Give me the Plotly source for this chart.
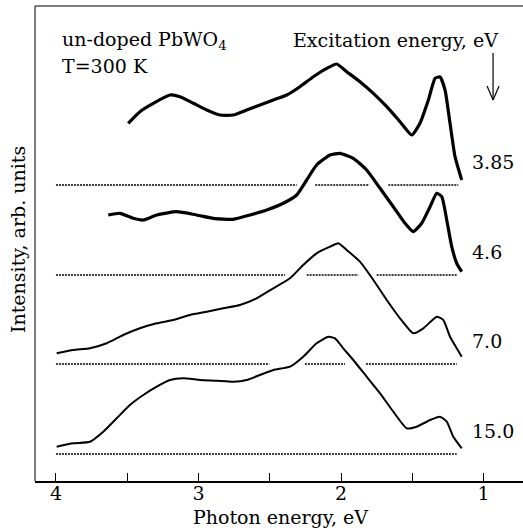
import plotly.graph_objects as go

# Photoluminescence spectra of un-doped PbWO4 at T = 300 K for several
# excitation energies; each spectrum is shifted up by its own offset.
excitation = ["3.85", "4.6", "7.0", "15.0"]
offsets = [269, 179, 90, 0]

e_385 = [3.493, 3.411, 3.317, 3.200, 3.130, 3.036, 2.942, 2.849, 2.756, 2.662,
         2.568, 2.475, 2.381, 2.288, 2.194, 2.100, 2.030, 1.960, 1.867, 1.773,
         1.679, 1.586, 1.504, 1.446, 1.387, 1.340, 1.305, 1.270, 1.235, 1.200,
         1.153]
i_385 = [61.7, 73.3, 81.7, 90.0, 88.3, 81.7, 75.0, 70.0, 70.0, 75.0,
         80.0, 85.0, 90.0, 98.3, 108.3, 116.7, 121.0, 113.3, 103.3, 91.7,
         78.3, 63.3, 50.0, 61.7, 85.0, 106.7, 108.0, 95.0, 61.7, 28.3,
         5.0]

e_46 = [3.633, 3.551, 3.458, 3.387, 3.293, 3.153, 3.013, 2.896, 2.756, 2.639,
        2.521, 2.405, 2.311, 2.241, 2.171, 2.077, 2.007, 1.914, 1.820, 1.726,
        1.633, 1.551, 1.493, 1.434, 1.375, 1.328, 1.293, 1.258, 1.223, 1.188,
        1.153]
i_46 = [60.0, 61.7, 56.7, 55.0, 60.0, 63.3, 60.0, 56.7, 55.7, 60.0,
        65.0, 71.7, 80.0, 95.0, 110.0, 120.0, 121.7, 116.7, 105.0, 86.7,
        68.3, 51.7, 43.3, 51.7, 68.3, 81.7, 78.3, 55.0, 28.3, 11.7,
        3.3]

e_70 = [3.995, 3.879, 3.761, 3.644, 3.528, 3.411, 3.293, 3.177, 3.060, 2.942,
        2.826, 2.709, 2.592, 2.475, 2.358, 2.265, 2.171, 2.077, 2.019, 1.960,
        1.867, 1.773, 1.679, 1.586, 1.493, 1.422, 1.328, 1.282, 1.235, 1.188,
        1.153]
i_70 = [10.7, 14.0, 15.7, 20.7, 29.0, 35.7, 40.7, 44.0, 49.0, 52.3,
        55.7, 59.0, 65.7, 75.7, 85.7, 99.0, 110.7, 117.3, 120.7, 114.0,
        102.3, 84.0, 64.0, 45.7, 30.7, 35.7, 47.3, 44.0, 27.3, 15.7,
        7.3]

e_150 = [3.995, 3.879, 3.761, 3.668, 3.574, 3.481, 3.387, 3.293, 3.200, 3.107,
         2.989, 2.872, 2.756, 2.662, 2.568, 2.475, 2.358, 2.265, 2.171, 2.089,
         2.042, 1.984, 1.914, 1.820, 1.726, 1.633, 1.539, 1.469, 1.375, 1.305,
         1.258, 1.212, 1.153]
i_150 = [7.3, 10.7, 12.3, 22.3, 35.7, 49.0, 59.0, 67.3, 74.0, 75.7,
         74.0, 73.3, 72.3, 74.0, 79.0, 84.0, 87.3, 97.3, 110.7, 117.3,
         115.7, 105.7, 94.0, 77.3, 60.7, 42.3, 25.7, 27.3, 34.0, 37.3,
         32.3, 17.3, 5.7]

energies = [e_385, e_46, e_70, e_150]
intensities = [i_385, i_46, i_70, i_150]
widths = [3.2, 3.2, 2.0, 2.0]

# zero levels of every spectrum, broken where another spectrum crosses them
baseline_segments = [
    [(4.0, 2.311), (2.181, 1.801), (1.668, 1.177)],
    [(4.0, 2.393), (2.241, 1.879), (1.750, 1.188)],
    [(4.0, 2.503), (2.253, 1.972), (1.825, 1.188)],
    [(4.0, 1.188)],
]

x_ticks = [4, 3.5, 3, 2.5, 2, 1.5, 1]
x_tick_text = ["4", "", "3", "", "2", "", "1"]

FONT = "DejaVu Serif"
fig = go.Figure()

for segs, off in zip(baseline_segments, offsets):
    for a, b in segs:
        fig.add_trace(go.Scatter(
            x=[a, b], y=[off, off], mode="lines",
            line=dict(color="black", width=1.4, dash="2px,1px"),
            hoverinfo="skip", showlegend=False))

for e, inten, off, w in zip(energies, intensities, offsets, widths):
    fig.add_trace(go.Scatter(
        x=e, y=[v + off for v in inten], mode="lines",
        line=dict(color="black", width=w, shape="spline", smoothing=0.5),
        showlegend=False))

annotations = []
for lab, off in zip(excitation, offsets):
    annotations.append(dict(x=1.095, y=off + 23, xref="x", yref="y", text=lab,
                            showarrow=False, xanchor="left", yanchor="middle"))

annotations += [
    dict(x=3.972, y=414, xref="x", yref="y", text="un-doped PbWO<sub>4</sub>",
         showarrow=False, xanchor="left", yanchor="middle"),
    dict(x=3.972, y=388, xref="x", yref="y", text="T=300 K",
         showarrow=False, xanchor="left", yanchor="middle"),
    dict(x=0.884, y=414, xref="x", yref="y", text="Excitation energy, eV",
         showarrow=False, xanchor="right", yanchor="middle"),
    dict(x=-0.0348, y=214, xref="paper", yref="y", text="Intensity, arb. units",
         textangle=-90, showarrow=False, xanchor="center", yanchor="middle"),
    dict(x=0.504, y=-0.0758, xref="paper", yref="paper", text="Photon energy, eV",
         showarrow=False, xanchor="center", yanchor="middle"),
]

shapes = [
    # frame: top and left edges
    dict(type="line", xref="paper", yref="paper", x0=0, x1=1, y0=1, y1=1,
         line=dict(color="#555555", width=1.3)),
    dict(type="line", xref="paper", yref="paper", x0=0, x1=0, y0=0, y1=1,
         line=dict(color="#333333", width=1.3)),
    # arrow pointing down toward higher excitation energies
    dict(type="line", xref="x", yref="y", x0=0.933, x1=0.933, y0=401, y1=354,
         line=dict(color="black", width=1.2)),
    dict(type="line", xref="x", yref="y", x0=0.975, x1=0.933, y0=368, y1=354,
         line=dict(color="black", width=1.2)),
    dict(type="line", xref="x", yref="y", x0=0.891, x1=0.933, y0=368, y1=354,
         line=dict(color="black", width=1.2)),
]

fig.update_layout(
    width=523, height=531,
    margin=dict(l=35, r=0, t=6, b=50),
    paper_bgcolor="white", plot_bgcolor="white",
    font=dict(family=FONT, size=19, color="black"),
    annotations=annotations, shapes=shapes,
    xaxis=dict(range=[4.147, 0.723], tickvals=x_ticks, ticktext=x_tick_text,
               ticks="inside", ticklen=8, tickwidth=1.2, tickcolor="black",
               ticklabelstandoff=-6,
               showline=True, linecolor="black", linewidth=1.5,
               showgrid=False, zeroline=False, mirror=False,
               tickfont=dict(family=FONT, size=19)),
    yaxis=dict(range=[-27, 448], showticklabels=False, ticks="",
               showline=False, showgrid=False, zeroline=False),
)

fig.write_html("out.html")
